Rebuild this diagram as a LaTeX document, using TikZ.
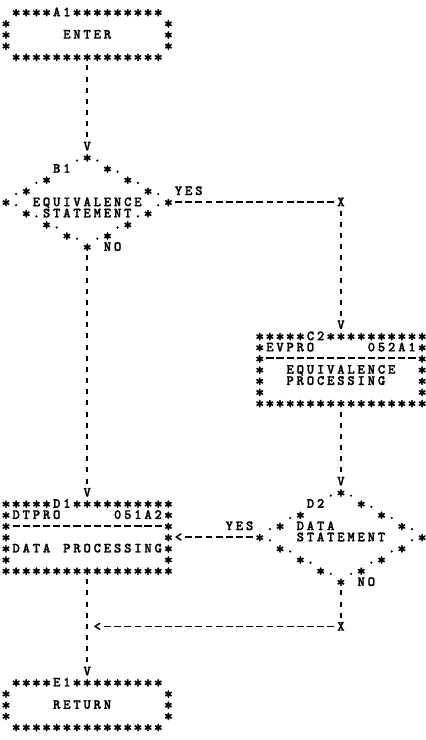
\documentclass[tikz,border=0pt]{standalone}
\usepackage{fontspec}
\newfontfamily\prt{lmmonolt10-bold}[Extension=.otf, FakeBold=1.6]
\newlength\pcl \setlength\pcl{10.15pt}
\def\monochar#1{\makebox[\pcl][c]{\ifx-#1\rule[3.6pt]{7.2pt}{1.5pt}\else\ifx*#1\raisebox{-1.6pt}{\fontsize{17}{17}\selectfont*}\else#1\fi\fi}}
\def\monoloop#1{\ifx\relax#1\else\monochar{#1}\expandafter\monoloop\fi}
\def\monostr#1{\monoloop#1\relax}
\newcommand\gtx[4]{\node[t] (#1) at ({6+10.15*(#2)-5.075},{12+11.17*(#3)}) {\monostr{#4}};}
\tikzset{
  t/.style={inner sep=0pt, outer sep=0pt, anchor=west,
    font=\fontsize{14}{14}\selectfont\prt,
    text height=8.55pt, text depth=0pt},
  vconn/.style={line width=1.9pt, dash pattern=on 5pt off 6.17pt, dash phase=6.775pt},
  hconn/.style={line width=1.4pt, dash pattern=on 6.8pt off 3.35pt, dash phase=8.475pt},
}
\begin{document}
\begin{tikzpicture}[x=1pt,y=-1pt]
\fill[white] (0,0) rectangle (426,740);
\useasboundingbox (0,0) rectangle (426,740);
% A1
\gtx{a1t}{1}{0}{****A1*********}
\gtx{a1l1}{0}{1}{*} \gtx{a1r1}{16}{1}{*}
\gtx{a1l2}{0}{2}{*} \gtx{a1x}{6}{2}{ENTER} \gtx{a1r2}{16}{2}{*}
\gtx{a1l3}{0}{3}{*} \gtx{a1r3}{16}{3}{*}
\gtx{a1b}{1}{4}{***************}
\gtx{v1}{8}{12}{V}
% B1
\gtx{b1a}{7}{13}{.*.}
\gtx{b1lab}{5}{14}{B1} \gtx{b1br}{10}{14}{*.}
\gtx{b1cl}{3}{15}{.*} \gtx{b1cr}{12}{15}{*.}
\gtx{b1dl}{1}{16}{.*} \gtx{b1dr}{14}{16}{*.} \gtx{yes1}{17}{16}{YES}
\gtx{b1el}{0}{17}{*.} \gtx{b1t1}{3}{17}{EQUIVALENCE} \gtx{b1er}{15}{17}{.*}
\gtx{b1f}{2}{18}{*.STATEMENT.*}
\gtx{b1gl}{4}{19}{*.} \gtx{b1gr}{11}{19}{.*}
\gtx{b1hl}{6}{20}{*.} \gtx{b1hr}{9}{20}{.*}
\gtx{b1i}{8}{21}{*} \gtx{no1}{10}{21}{NO}
\gtx{x1}{33}{17}{X}
\gtx{v2}{33}{28}{V}
% C2
\gtx{c2t}{25}{29}{*****C2**********}
\gtx{c2n}{25}{30}{*EVPRO} \gtx{c2p}{36}{30}{052A1*}
\gtx{c2d}{25}{31}{*---------------*}
\gtx{c2l1}{25}{32}{*} \gtx{c2x1}{28}{32}{EQUIVALENCE} \gtx{c2r1}{41}{32}{*}
\gtx{c2l2}{25}{33}{*} \gtx{c2x2}{28}{33}{PROCESSING} \gtx{c2r2}{41}{33}{*}
\gtx{c2l3}{25}{34}{*} \gtx{c2r3}{41}{34}{*}
\gtx{c2b}{25}{35}{*****************}
\gtx{v3}{33}{42}{V}
% D2
\gtx{d2a}{32}{43}{.*.}
\gtx{d2lab}{30}{44}{D2} \gtx{d2br}{35}{44}{*.}
\gtx{d2cl}{28}{45}{.*} \gtx{d2cr}{37}{45}{*.}
\gtx{yes2}{22}{46}{YES} \gtx{d2dl}{26}{46}{.*} \gtx{d2t1}{29}{46}{DATA} \gtx{d2dr}{39}{46}{*.}
\gtx{d2el}{25}{47}{*.} \gtx{d2t2}{29}{47}{STATEMENT} \gtx{d2er}{40}{47}{.*}
\gtx{d2fl}{27}{48}{*.} \gtx{d2fr}{38}{48}{.*}
\gtx{d2gl}{29}{49}{*.} \gtx{d2gr}{36}{49}{.*}
\gtx{d2hl}{31}{50}{*.} \gtx{d2hr}{34}{50}{.*}
\gtx{d2i}{33}{51}{*} \gtx{no2}{35}{51}{NO}
\gtx{x2}{33}{55}{X}
% D1
\gtx{v4}{8}{43}{V}
\gtx{d1t}{0}{44}{*****D1**********}
\gtx{d1n}{0}{45}{*DTPRO} \gtx{d1p}{11}{45}{051A2*}
\gtx{d1d}{0}{46}{*---------------*}
\gtx{d1l1}{0}{47}{*} \gtx{l1}{16}{47}{*<}
\gtx{d1x1}{0}{48}{*DATA} \gtx{d1x2}{6}{48}{PROCESSING*}
\gtx{d1l3}{0}{49}{*} \gtx{d1r3}{16}{49}{*}
\gtx{d1b}{0}{50}{*****************}
\gtx{l2}{9}{55}{<}
\gtx{v5}{8}{59}{V}
% E1
\gtx{e1t}{1}{60}{****E1*********}
\gtx{e1l1}{0}{61}{*} \gtx{e1r1}{16}{61}{*}
\gtx{e1l2}{0}{62}{*} \gtx{e1x}{5}{62}{RETURN} \gtx{e1r2}{16}{62}{*}
\gtx{e1l3}{0}{63}{*} \gtx{e1r3}{16}{63}{*}
\gtx{e1b}{1}{64}{***************}
% connectors
\draw[vconn] (a1b.south) -- (v1.north);
\draw[vconn] (b1i.south) -- (v4.north);
\draw[hconn] (b1er.east) -- (x1.west);
\draw[vconn] (x1.south) -- (v2.north);
\draw[vconn] (c2b.south) -- (v3.north);
\draw[hconn] (d2el.west) -- (l1.east);
\draw[vconn] (d2i.south) -- (x2.north);
\draw[hconn] (x2.west) -- (l2.east);
\draw[vconn] (d1b.south) -- (v5.north);
\end{tikzpicture}
\end{document}
